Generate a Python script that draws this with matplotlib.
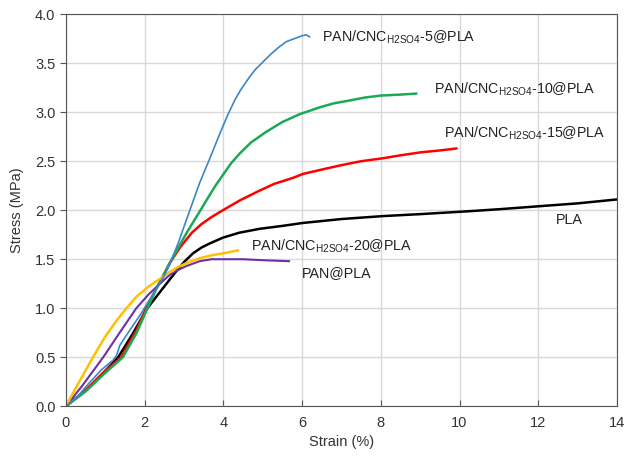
import numpy as np
import matplotlib.pyplot as plt

# strain (%) / stress (MPa)
pla_x = [0, 0.5, 1.0, 1.33, 1.7, 2.07, 2.4, 2.77, 3.0, 3.23, 3.45, 3.65, 3.99, 4.4, 4.92, 5.5, 6.02, 7.0,
         8.05, 9.0, 10.25, 11.0, 12.0, 13.0, 14.0]
pla_y = [0, 0.16, 0.36, 0.5, 0.74, 1.0, 1.17, 1.36, 1.47, 1.56, 1.62, 1.66, 1.72, 1.77, 1.81, 1.84, 1.87, 1.91,
         1.94, 1.96, 1.99, 2.01, 2.04, 2.07, 2.11]

cnc5_x = [0, 0.3, 0.6, 0.9, 1.2, 1.29, 1.37, 1.5, 1.7, 1.92, 2.1, 2.3, 2.5, 2.64, 2.85, 3.0, 3.15, 3.4, 3.69,
          3.9, 4.11, 4.3, 4.46, 4.65, 4.8, 5.0, 5.2, 5.4, 5.6, 5.8, 6.0, 6.11, 6.19]
cnc5_y = [0, 0.1, 0.24, 0.37, 0.47, 0.52, 0.62, 0.7, 0.82, 0.95, 1.07, 1.2, 1.33, 1.45, 1.66, 1.83, 2.0, 2.28,
          2.56, 2.77, 2.97, 3.13, 3.24, 3.35, 3.43, 3.51, 3.59, 3.66, 3.72, 3.75, 3.78, 3.79, 3.77]

cnc10_x = [0, 0.5, 1.0, 1.45, 1.8, 2.04, 2.3, 2.64, 2.9, 3.1, 3.36, 3.57, 3.8, 3.99, 4.2, 4.42, 4.7, 5.09,
           5.5, 5.94, 6.45, 6.8, 7.21, 7.6, 8.0, 8.5, 8.9]
cnc10_y = [0, 0.15, 0.34, 0.5, 0.75, 0.97, 1.2, 1.46, 1.65, 1.79, 1.96, 2.1, 2.25, 2.36, 2.48, 2.58, 2.69, 2.8,
           2.9, 2.98, 3.05, 3.09, 3.12, 3.15, 3.17, 3.18, 3.19]

cnc15_x = [0, 0.5, 1.0, 1.41, 1.8, 2.04, 2.3, 2.64, 2.9, 3.2, 3.45, 3.7, 3.99, 4.42, 4.92, 5.3, 5.77, 6.02,
           6.45, 7.0, 7.5, 8.05, 8.5, 9.0, 9.5, 9.92]
cnc15_y = [0, 0.16, 0.36, 0.5, 0.78, 1.0, 1.2, 1.46, 1.62, 1.77, 1.86, 1.93, 2.0, 2.1, 2.2, 2.27, 2.33, 2.37,
           2.41, 2.46, 2.5, 2.53, 2.56, 2.59, 2.61, 2.63]

cnc20_x = [0, 0.3, 0.69, 1.0, 1.3, 1.54, 1.8, 2.1, 2.39, 2.64, 2.85, 3.06, 3.4, 3.7, 4.0, 4.37]
cnc20_y = [0, 0.22, 0.5, 0.71, 0.88, 1.0, 1.12, 1.22, 1.3, 1.37, 1.42, 1.46, 1.51, 1.54, 1.56, 1.59]

pan_x = [0, 0.4, 0.95, 1.4, 1.79, 2.1, 2.39, 2.64, 2.85, 3.06, 3.4, 3.7, 4.0, 4.5, 5.0, 5.67]
pan_y = [0, 0.2, 0.5, 0.77, 1.0, 1.14, 1.25, 1.34, 1.39, 1.43, 1.48, 1.5, 1.5, 1.5, 1.49, 1.48]

sub = r"$_{\mathregular{H2SO4}}$"
labels = ["PAN/CNC" + sub + "-5@PLA", "PAN/CNC" + sub + "-10@PLA",
          "PAN/CNC" + sub + "-15@PLA", "PLA",
          "PAN/CNC" + sub + "-20@PLA", "PAN@PLA"]
label_pos = [(6.5, 3.76), (9.35, 3.23), (9.6, 2.79), (12.45, 1.9), (4.7, 1.63), (6.0, 1.36)]

plt.rcParams.update({'font.size': 10.5, 'font.family': 'Liberation Sans'})

fig, ax = plt.subplots(figsize=(6.27, 4.59), dpi=100)
fig.subplots_adjust(left=0.105, right=0.984, bottom=0.115, top=0.969)

ax.plot(pla_x, pla_y, color="black", lw=1.8)
ax.plot(cnc15_x, cnc15_y, color="#ff0000", lw=1.8)
ax.plot(cnc10_x, cnc10_y, color="#1aaa55", lw=1.8)
ax.plot(pan_x, pan_y, color="#7030a0", lw=1.5)
ax.plot(cnc20_x, cnc20_y, color="#ffc000", lw=1.8)
ax.plot(cnc5_x, cnc5_y, color="#3a86c8", lw=1.2)

for text, (x, y) in zip(labels, label_pos):
    ax.text(x, y, text, fontsize=10.3, va="center", ha="left", color="#222222")

ax.set_xlim(0, 14)
ax.set_ylim(0, 4)
ax.set_xticks(np.arange(0, 15, 2))
ax.set_yticks(np.arange(0, 4.01, 0.5))
ax.yaxis.set_major_formatter(plt.FormatStrFormatter('%.1f'))
ax.grid(True, color="#d9d9d9", lw=1)
ax.set_axisbelow(True)
for s in ax.spines.values():
    s.set_color("#555555")
ax.tick_params(axis='x', direction='in', length=4, colors="#555555", labelcolor="#333333", pad=7)
ax.tick_params(axis='y', direction='out', length=4, colors="#555555", labelcolor="#333333")
ax.set_xlabel("Strain (%)", color="#333333", labelpad=4)
ax.set_ylabel("Stress (MPa)", color="#333333", labelpad=8)

fig.savefig("out.png", dpi=100)
